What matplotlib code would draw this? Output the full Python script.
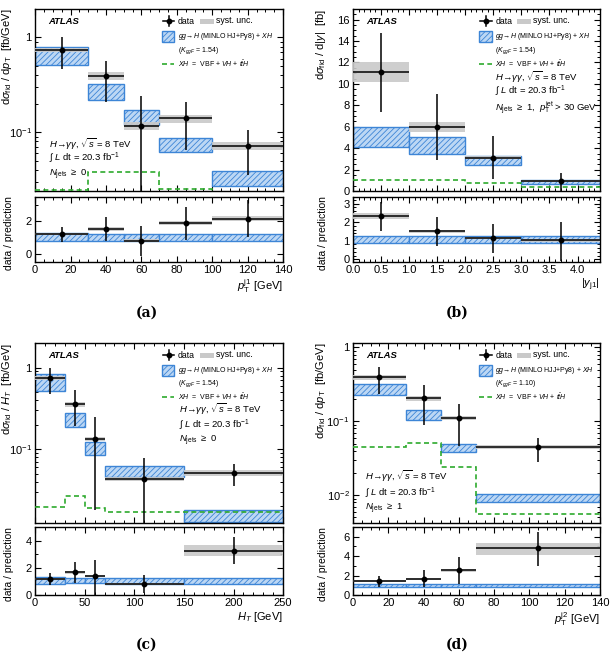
import numpy as np
import matplotlib
matplotlib.use("Agg")
import matplotlib.pyplot as plt
from matplotlib.ticker import MultipleLocator, FuncFormatter, NullFormatter
from matplotlib.patches import Rectangle
from matplotlib.lines import Line2D

plt.rcParams['font.family'] = ['Liberation Sans', 'DejaVu Sans']
plt.rcParams['mathtext.fontset'] = 'custom'
plt.rcParams['mathtext.rm'] = 'Liberation Sans'
plt.rcParams['mathtext.it'] = 'Liberation Sans:italic'
plt.rcParams['mathtext.bf'] = 'Liberation Sans:bold'
plt.rcParams['hatch.linewidth'] = 0.6

# ---- (a) leading jet pT
a_edges = [0, 30, 50, 70, 100, 140]
a_data = [0.73, 0.39, 0.117, 0.14, 0.071]
a_hi = [1.0, 0.57, 0.24, 0.21, 0.106]
a_lo = [0.46, 0.21, 0.005, 0.065, 0.035]
a_syst_lo = [0.695, 0.36, 0.105, 0.125, 0.065]
a_syst_hi = [0.77, 0.43, 0.127, 0.151, 0.078]
a_pred_lo = [0.51, 0.22, 0.12, 0.0625, 0.027]
a_pred_hi = [0.80, 0.32, 0.172, 0.088, 0.039]
a_xh = [0.0248, 0.038, 0.038, 0.025, 0.02]
a_r = [1.22, 1.54, 0.82, 1.88, 2.15]
a_r_lo = [0.75, 0.8, -0.1, 0.85, 1.05]
a_r_hi = [1.65, 2.25, 1.7, 2.9, 3.3]
a_rs_lo = [1.15, 1.42, 0.75, 1.78, 2.0]
a_rs_hi = [1.3, 1.68, 0.9, 2.0, 2.35]
a_rp_lo = [0.8, 0.82, 0.82, 0.82, 0.82]
a_rp_hi = [1.3, 1.22, 1.22, 1.22, 1.22]

# ---- (b) leading jet rapidity
b_edges = [0, 1, 2, 3, 4.4]
b_data = [11.1, 6.0, 3.1, 0.93]
b_hi = [14.8, 9.05, 5.15, 1.65]
b_lo = [7.4, 2.9, 1.1, 0.0]
b_syst_lo = [10.2, 5.5, 2.95, 0.8]
b_syst_hi = [12.0, 6.45, 3.3, 1.05]
b_pred_lo = [4.1, 3.5, 2.4, 0.65]
b_pred_hi = [6.0, 5.0, 3.3, 1.05]
b_xh = [1.05, 1.0, 0.75, 0.35]
b_r = [2.35, 1.5, 1.15, 1.02]
b_r_lo = [1.5, 0.7, 0.35, -0.1]
b_r_hi = [3.1, 2.25, 1.9, 2.0]
b_rs_lo = [2.19, 1.42, 1.1, 0.95]
b_rs_hi = [2.49, 1.58, 1.2, 1.08]
b_rp_lo = [0.85, 0.85, 0.85, 0.85]
b_rp_hi = [1.25, 1.25, 1.25, 1.25]

# ---- (c) HT
c_edges = [0, 30, 50, 70, 150, 250]
c_data = [0.74, 0.36, 0.134, 0.043, 0.051]
c_hi = [1.0, 0.53, 0.247, 0.078, 0.066]
c_lo = [0.47, 0.19, 0.018, 0.005, 0.035]
c_syst_lo = [0.70, 0.33, 0.125, 0.041, 0.047]
c_syst_hi = [0.78, 0.38, 0.14, 0.046, 0.055]
c_pred_lo = [0.52, 0.186, 0.084, 0.0455, 0.0127]
c_pred_hi = [0.83, 0.277, 0.122, 0.063, 0.018]
c_xh = [0.0195, 0.027, 0.019, 0.017, 0.017]
c_r = [1.18, 1.67, 1.4, 0.81, 3.26]
c_r_lo = [0.7, 0.85, 0.0, 0.15, 2.3]
c_r_hi = [1.65, 2.45, 2.57, 1.5, 4.3]
c_rs_lo = [1.1, 1.55, 1.3, 0.75, 2.9]
c_rs_hi = [1.26, 1.78, 1.5, 0.87, 3.65]
c_rp_lo = [0.8, 0.85, 0.85, 0.82, 0.82]
c_rp_hi = [1.35, 1.25, 1.25, 1.23, 1.23]

# ---- (d) subleading jet pT
d_edges = [0, 30, 50, 70, 140]
d_data = [0.40, 0.206, 0.111, 0.045]
d_hi = [0.55, 0.31, 0.172, 0.06]
d_lo = [0.235, 0.09, 0.0465, 0.028]
d_syst_lo = [0.36, 0.19, 0.103, 0.042]
d_syst_hi = [0.43, 0.22, 0.117, 0.048]
d_pred_lo = [0.23, 0.104, 0.0385, 0.0081]
d_pred_hi = [0.316, 0.143, 0.05, 0.0105]
d_xh = [0.0456, 0.0506, 0.0238, 0.0056]
d_r = [1.4, 1.63, 2.53, 4.79]
d_r_lo = [0.85, 0.85, 1.1, 3.0]
d_r_hi = [1.95, 2.55, 3.92, 6.52]
d_rs_lo = [1.3, 1.52, 2.35, 4.16]
d_rs_hi = [1.5, 1.75, 2.7, 5.38]
d_rp_lo = [0.8, 0.8, 0.8, 0.8]
d_rp_hi = [1.15, 1.15, 1.15, 1.15]

BLUE_FILL = '#bcd7f4'
BLUE_EDGE = '#3d85d6'
GREY = '#c9c9c9'
GREEN = '#2eaa2e'

LAB = 8      # axis labels
SMALL = 6.3  # legend entries
TINY = 5.0   # legend sub-text


def style_axis(ax, xmajor, xminor, ymajor=None, yminor=None):
    ax.tick_params(which='both', direction='in', top=True, right=True, labelsize=8)
    ax.tick_params(which='major', length=4.5, width=0.8, pad=2.5)
    ax.tick_params(which='minor', length=2.5, width=0.7)
    ax.xaxis.set_major_locator(MultipleLocator(xmajor))
    ax.xaxis.set_minor_locator(MultipleLocator(xminor))
    if ymajor is not None:
        ax.yaxis.set_major_locator(MultipleLocator(ymajor))
        ax.yaxis.set_minor_locator(MultipleLocator(yminor))
    for s in ax.spines.values():
        s.set_linewidth(1.0)


def log_fmt(v, pos):
    if abs(v - 1) < 1e-9:
        return '1'
    return r'$10^{%d}$' % int(round(np.log10(v)))


def draw_boxes(ax, edges, lo, hi, data, dlo, dhi, slo, shi, xh=None):
    edges = np.array(edges, dtype=float)
    widths = np.diff(edges)
    centers = edges[:-1] + widths / 2
    lo = np.array(lo); hi = np.array(hi)
    ax.bar(edges[:-1], hi - lo, bottom=lo, width=widths, align='edge',
           facecolor=BLUE_FILL, edgecolor=BLUE_EDGE, hatch='//////', linewidth=1.0, zorder=2)
    slo = np.array(slo); shi = np.array(shi)
    ax.bar(edges[:-1], shi - slo, bottom=slo, width=widths, align='edge',
           color=GREY, linewidth=0, zorder=3, alpha=0.9)
    if xh is not None:
        ax.stairs(xh, edges, color=GREEN, linestyle=(0, (3, 2)), linewidth=1.2, baseline=None, zorder=4)
    data = np.array(data)
    yerr = [data - np.array(dlo), np.array(dhi) - data]
    ax.errorbar(centers, data, xerr=widths / 2, yerr=yerr, fmt='o', color='black',
                ms=3.2, elinewidth=1.1, capsize=0, zorder=5)


def legend(ax, ggf_label, kval):
    t = ax.transAxes
    ax.add_line(Line2D([0.515, 0.561], [0.932, 0.932], color='black', lw=1.1, transform=t))
    ax.add_line(Line2D([0.538, 0.538], [0.905, 0.96], color='black', lw=1.1, transform=t))
    ax.plot([0.538], [0.932], 'o', color='black', ms=3.2, transform=t)
    ax.text(0.576, 0.932, 'data', transform=t, fontsize=SMALL, va='center')
    ax.add_patch(Rectangle((0.666, 0.918), 0.055, 0.028, transform=t, color=GREY, lw=0))
    ax.text(0.73, 0.934, 'syst. unc.', transform=t, fontsize=SMALL, va='center')
    ax.add_patch(Rectangle((0.511, 0.818), 0.05, 0.062, transform=t, facecolor=BLUE_FILL,
                           edgecolor=BLUE_EDGE, hatch='//////', lw=1.0))
    ax.text(0.576, 0.848, r'$gg\!\to\!H$ (MINLO ' + ggf_label + r'+Py8) + $XH$',
            transform=t, fontsize=TINY, va='center')
    ax.text(0.576, 0.772, r'($K_{ggF}$ = ' + kval + ')', transform=t, fontsize=TINY, va='center')
    ax.add_line(Line2D([0.511, 0.561], [0.70, 0.70], color=GREEN, lw=1.2,
                       linestyle=(0, (3, 2)), transform=t))
    ax.text(0.576, 0.70, r'$XH$  =  VBF + $VH$ + $t\bar{t}H$', transform=t, fontsize=TINY, va='center')
    ax.text(0.054, 0.932, 'ATLAS', transform=t, fontsize=6.8, fontweight='bold',
            fontstyle='italic', va='center')


def info(ax, x, ys, njets):
    t = ax.transAxes
    ax.text(x, ys[0], r'$H\!\rightarrow\!\gamma\gamma$, $\sqrt{s}$ = 8 TeV', transform=t,
            fontsize=6.8, va='center')
    ax.text(x, ys[1], r'$\int$ $L$ dt = 20.3 fb$^{-1}$', transform=t, fontsize=6.8, va='center')
    ax.text(x, ys[2], njets, transform=t, fontsize=6.8, va='center')


def ratio_panel(ax, edges, plo, phi, r, rlo, rhi, rslo, rshi, ylim, labx):
    draw_boxes(ax, edges, plo, phi, r, rlo, rhi, rslo, rshi)
    ax.set_xlim(edges[0], edges[-1])
    ax.set_ylim(*ylim)
    ax.set_ylabel('data / prediction', fontsize=7.5)
    ax.yaxis.set_label_coords(labx, 0.45)


fig = plt.figure(figsize=(6.16, 6.59), dpi=100)

LX = [0.057, 0.573]
W = [0.4026, 0.401]
YLX = [-0.085, -0.10]

# (a)
ax = fig.add_axes([LX[0], 0.7102, W[0], 0.2762])
draw_boxes(ax, a_edges, a_pred_lo, a_pred_hi, a_data, a_lo, a_hi, a_syst_lo, a_syst_hi, a_xh)
ax.set_yscale('log')
ax.set_xlim(0, 140)
ax.set_ylim(0.024, 2.0)
style_axis(ax, 20, 5)
ax.yaxis.set_major_formatter(FuncFormatter(log_fmt))
ax.yaxis.set_minor_formatter(NullFormatter())
ax.tick_params(labelbottom=False)
ax.set_ylabel(r'd$\sigma_{\rm fid}$ / d$p_{\rm T}$  [fb/GeV]', fontsize=LAB, loc='top')
ax.yaxis.set_label_coords(YLX[0], 1.0)
legend(ax, 'HJ', '1.54')
info(ax, 0.054, [0.258, 0.178, 0.088], r'$N_{\rm jets}$ $\geq$ 0')
rx = fig.add_axes([LX[0], 0.6024, W[0], 0.0986])
ratio_panel(rx, a_edges, a_rp_lo, a_rp_hi, a_r, a_r_lo, a_r_hi, a_rs_lo, a_rs_hi, (-0.5, 3.5), YLX[0])
style_axis(rx, 20, 5, 2, 1)
rx.set_xlabel(r'$p_{\rm T}^{\rm j1}$ [GeV]', fontsize=LAB, loc='right', labelpad=1)

# (b)
ax = fig.add_axes([LX[1], 0.7102, W[1], 0.2762])
draw_boxes(ax, b_edges, b_pred_lo, b_pred_hi, b_data, b_lo, b_hi, b_syst_lo, b_syst_hi, b_xh)
ax.set_xlim(0, 4.4)
ax.set_ylim(0, 17)
style_axis(ax, 0.5, 0.1, 2, 0.5)
ax.tick_params(labelbottom=False)
ax.set_ylabel(r'd$\sigma_{\rm fid}$ / d$|y|$  [fb]', fontsize=LAB, loc='top')
ax.yaxis.set_label_coords(YLX[1], 1.0)
legend(ax, 'HJ', '1.54')
info(ax, 0.574, [0.627, 0.545, 0.457],
     r'$N_{\rm jets}$ $\geq$ 1,  $p_{\rm T}^{\rm jet}$ > 30 GeV')
rx = fig.add_axes([LX[1], 0.6024, W[1], 0.0986])
ratio_panel(rx, b_edges, b_rp_lo, b_rp_hi, b_r, b_r_lo, b_r_hi, b_rs_lo, b_rs_hi, (-0.15, 3.35), YLX[1])
style_axis(rx, 0.5, 0.1, 1, 0.2)
rx.set_xlabel(r'$|y_{\rm j1}|$', fontsize=LAB, loc='right', labelpad=1)

# (c)
ax = fig.add_axes([LX[0], 0.2064, W[0], 0.2731])
draw_boxes(ax, c_edges, c_pred_lo, c_pred_hi, c_data, c_lo, c_hi, c_syst_lo, c_syst_hi, c_xh)
ax.set_yscale('log')
ax.set_xlim(0, 250)
ax.set_ylim(0.0125, 2.0)
style_axis(ax, 50, 10)
ax.yaxis.set_major_formatter(FuncFormatter(log_fmt))
ax.yaxis.set_minor_formatter(NullFormatter())
ax.tick_params(labelbottom=False)
ax.set_ylabel(r'd$\sigma_{\rm fid}$ / $H_T$  [fb/GeV]', fontsize=LAB, loc='top')
ax.yaxis.set_label_coords(YLX[0], 1.0)
legend(ax, 'HJ', '1.54')
info(ax, 0.579, [0.632, 0.54, 0.455], r'$N_{\rm jets}$ $\geq$ 0')
rx = fig.add_axes([LX[0], 0.0971, W[0], 0.1032])
ratio_panel(rx, c_edges, c_rp_lo, c_rp_hi, c_r, c_r_lo, c_r_hi, c_rs_lo, c_rs_hi, (0, 5), YLX[0])
style_axis(rx, 50, 10, 2, 1)
rx.set_xlabel(r'$H_T$ [GeV]', fontsize=LAB, loc='right', labelpad=1)

# (d)
ax = fig.add_axes([LX[1], 0.2064, W[1], 0.2731])
draw_boxes(ax, d_edges, d_pred_lo, d_pred_hi, d_data, d_lo, d_hi, d_syst_lo, d_syst_hi, d_xh)
ax.set_yscale('log')
ax.set_xlim(0, 140)
ax.set_ylim(0.0042, 1.15)
style_axis(ax, 20, 5)
ax.yaxis.set_major_formatter(FuncFormatter(log_fmt))
ax.yaxis.set_minor_formatter(NullFormatter())
ax.tick_params(labelbottom=False)
ax.set_ylabel(r'd$\sigma_{\rm fid}$ / d$p_{\rm T}$  [fb/GeV]', fontsize=LAB, loc='top')
ax.yaxis.set_label_coords(YLX[1], 1.0)
legend(ax, 'HJJ', '1.10')
info(ax, 0.047, [0.262, 0.167, 0.08], r'$N_{\rm jets}$ $\geq$ 1')
rx = fig.add_axes([LX[1], 0.0971, W[1], 0.1032])
ratio_panel(rx, d_edges, d_rp_lo, d_rp_hi, d_r, d_r_lo, d_r_hi, d_rs_lo, d_rs_hi, (0, 7), YLX[1])
style_axis(rx, 20, 5, 2, 1)
rx.set_xlabel(r'$p_{\rm T}^{\rm j2}$ [GeV]', fontsize=LAB, loc='right', labelpad=1)

for lab, x, y in [('(a)', 0.238, 0.525), ('(b)', 0.742, 0.525),
                  ('(c)', 0.238, 0.021), ('(d)', 0.742, 0.021)]:
    fig.text(x, y, lab, fontsize=10, fontweight='bold', family='DejaVu Serif',
             ha='center', va='center')

fig.savefig('out.png', dpi=100)
